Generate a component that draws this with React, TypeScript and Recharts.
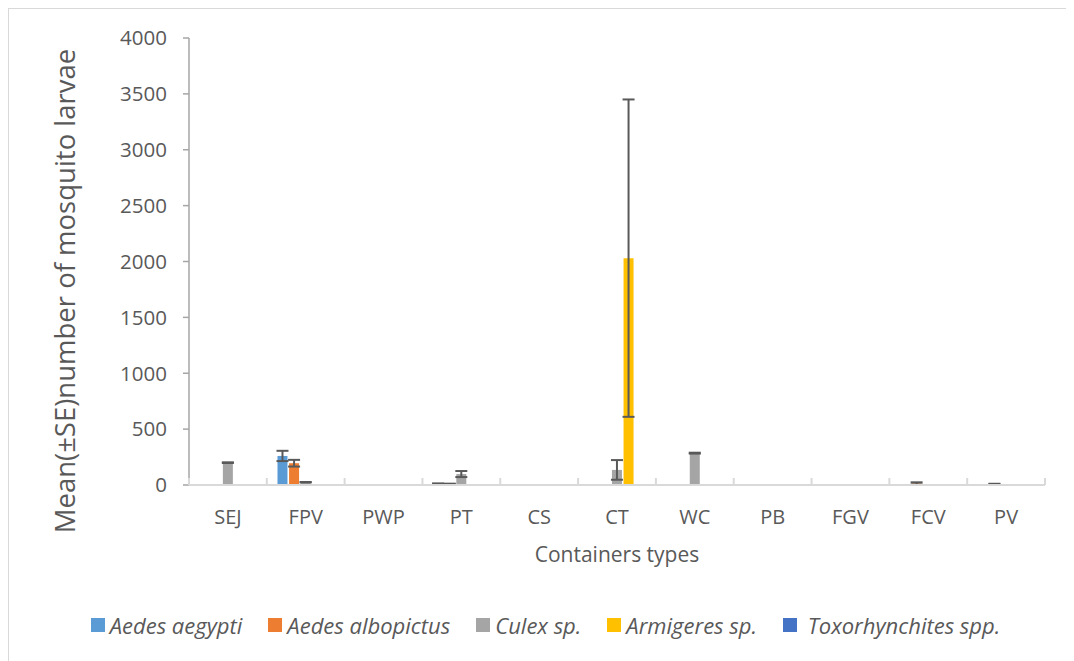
import React from "react";
import { Bar, BarChart, ErrorBar, Label, XAxis, YAxis } from "recharts";

const categories = ["SEJ", "FPV", "PWP", "PT", "CS", "CT", "WC", "PB", "FGV", "FCV", "PV"];

const aegypti = [0, 260, 0, 12, 0, 0, 0, 0, 0, 0, 0];
const aegyptiSE = [0, 46, 0, 2, 0, 0, 0, 0, 0, 0, 0];
const albopictus = [0, 195, 0, 10, 0, 0, 0, 0, 0, 14, 8];
const albopictusSE = [0, 30, 0, 2, 0, 0, 0, 0, 0, 10, 3];
const culex = [200, 25, 0, 98, 0, 135, 285, 0, 0, 0, 0];
const culexSE = [3, 2, 0, 27, 0, 88, 4, 0, 0, 0, 0];
const armigeres = [0, 0, 0, 0, 0, 2030, 8, 0, 0, 0, 0];
const armigeresSE = [0, 0, 0, 0, 0, 1420, 0, 0, 0, 0, 0];
const toxo = [0, 0, 0, 0, 0, 0, 0, 0, 0, 0, 0];
const toxoSE = [0, 0, 0, 0, 0, 0, 0, 0, 0, 0, 0];

const yTicks = [0, 500, 1000, 1500, 2000, 2500, 3000, 3500, 4000];

const series = [
  { key: "aegypti", name: "Aedes aegypti", color: "#5B9BD5" },
  { key: "albopictus", name: "Aedes albopictus", color: "#ED7D31" },
  { key: "culex", name: "Culex sp.", color: "#A5A5A5" },
  { key: "armigeres", name: "Armigeres sp.", color: "#FFC000" },
  { key: "toxo", name: " Toxorhynchites spp.", color: "#4472C4" },
];

const data = categories.map((c, i) => ({
  name: c,
  aegypti: aegypti[i],
  aegyptiSE: aegyptiSE[i],
  albopictus: albopictus[i],
  albopictusSE: albopictusSE[i],
  culex: culex[i],
  culexSE: culexSE[i],
  armigeres: armigeres[i],
  armigeresSE: armigeresSE[i],
  toxo: toxo[i],
  toxoSE: toxoSE[i],
}));

const W = 1063;
const H = 650;
const M = { top: 29, right: 27, left: 0, bottom: 0 };
const Y_W = 180;
const X_H = 174;
const PLOT_W = W - M.left - M.right - Y_W;
const BAND = PLOT_W / categories.length;
const FONT = "'Open Sans', sans-serif";
const TEXT = "#595959";

// category label in the middle, tick mark on the band edge (Excel style)
const CategoryTick = (props: any) => {
  const { x, y, payload, index } = props;
  const left = x - BAND / 2;
  const right = x + BAND / 2;
  return (
    <g>
      <line x1={left} x2={left} y1={y - 7} y2={y} stroke="#d9d9d9" strokeWidth={2} />
      {index === categories.length - 1 && (
        <line x1={right} x2={right} y1={y - 7} y2={y} stroke="#d9d9d9" strokeWidth={2} />
      )}
      <text x={x} y={y + 39} textAnchor="middle" fontFamily={FONT} fontSize={20} fill={TEXT}>
        {payload.value}
      </text>
    </g>
  );
};

const App: React.FC = () => {
  return (
    <div
      style={{
        position: "relative",
        width: W,
        height: H + 20,
        border: "1px solid #d9d9d9",
        background: "#fff",
      }}
    >
      <BarChart
        width={W}
        height={H}
        data={data}
        margin={M}
        barCategoryGap="13.7%"
        barGap={1.6}
      >
        <XAxis
          dataKey="name"
          height={X_H}
          tick={<CategoryTick />}
          tickLine={false}
          tickSize={0}
          tickMargin={0}
          interval={0}
          axisLine={{ stroke: "#d9d9d9", strokeWidth: 2 }}
        >
          <Label
            content={() => (
              <text x={608} y={553} textAnchor="middle" fontFamily={FONT} fontSize={21} fill={TEXT}>
                Containers types
              </text>
            )}
          />
        </XAxis>
        <YAxis
          width={Y_W}
          domain={[0, 4000]}
          ticks={yTicks}
          tickSize={6}
          tickMargin={16}
          axisLine={{ stroke: "#a6a6a6", strokeWidth: 1.5 }}
          tickLine={{ stroke: "#a6a6a6", strokeWidth: 1.5 }}
          tick={{ fontFamily: FONT, fontSize: 20.5, fill: TEXT }}
        >
          <Label
            content={() => (
              <text
                x={66}
                y={282}
                transform="rotate(-90 66 282)"
                textAnchor="middle"
                fontFamily={FONT}
                fontSize={27.5}
                fill={TEXT}
              >
                Mean(±SE)number of mosquito larvae
              </text>
            )}
          />
        </YAxis>
        {series.map((s) => (
          <Bar key={s.key} dataKey={s.key} name={s.name} fill={s.color} isAnimationActive={false}>
            <ErrorBar dataKey={`${s.key}SE`} stroke="#595959" strokeWidth={2} width={6} />
          </Bar>
        ))}
      </BarChart>
      <div
        style={{
          position: "absolute",
          top: 601,
          left: 0,
          width: W,
          height: 30,
          display: "flex",
          justifyContent: "center",
          alignItems: "center",
          gap: 26,
          fontFamily: FONT,
          fontStyle: "italic",
          fontSize: 22,
          color: TEXT,
          paddingLeft: 10,
          boxSizing: "border-box",
        }}
      >
        {series.map((s) => (
          <div key={s.key} style={{ display: "flex", alignItems: "center", whiteSpace: "pre" }}>
            <span style={{ width: 14, height: 14, background: s.color, marginRight: 5 }} />
            <span>{s.name}</span>
          </div>
        ))}
      </div>
    </div>
  );
};

export default App;
